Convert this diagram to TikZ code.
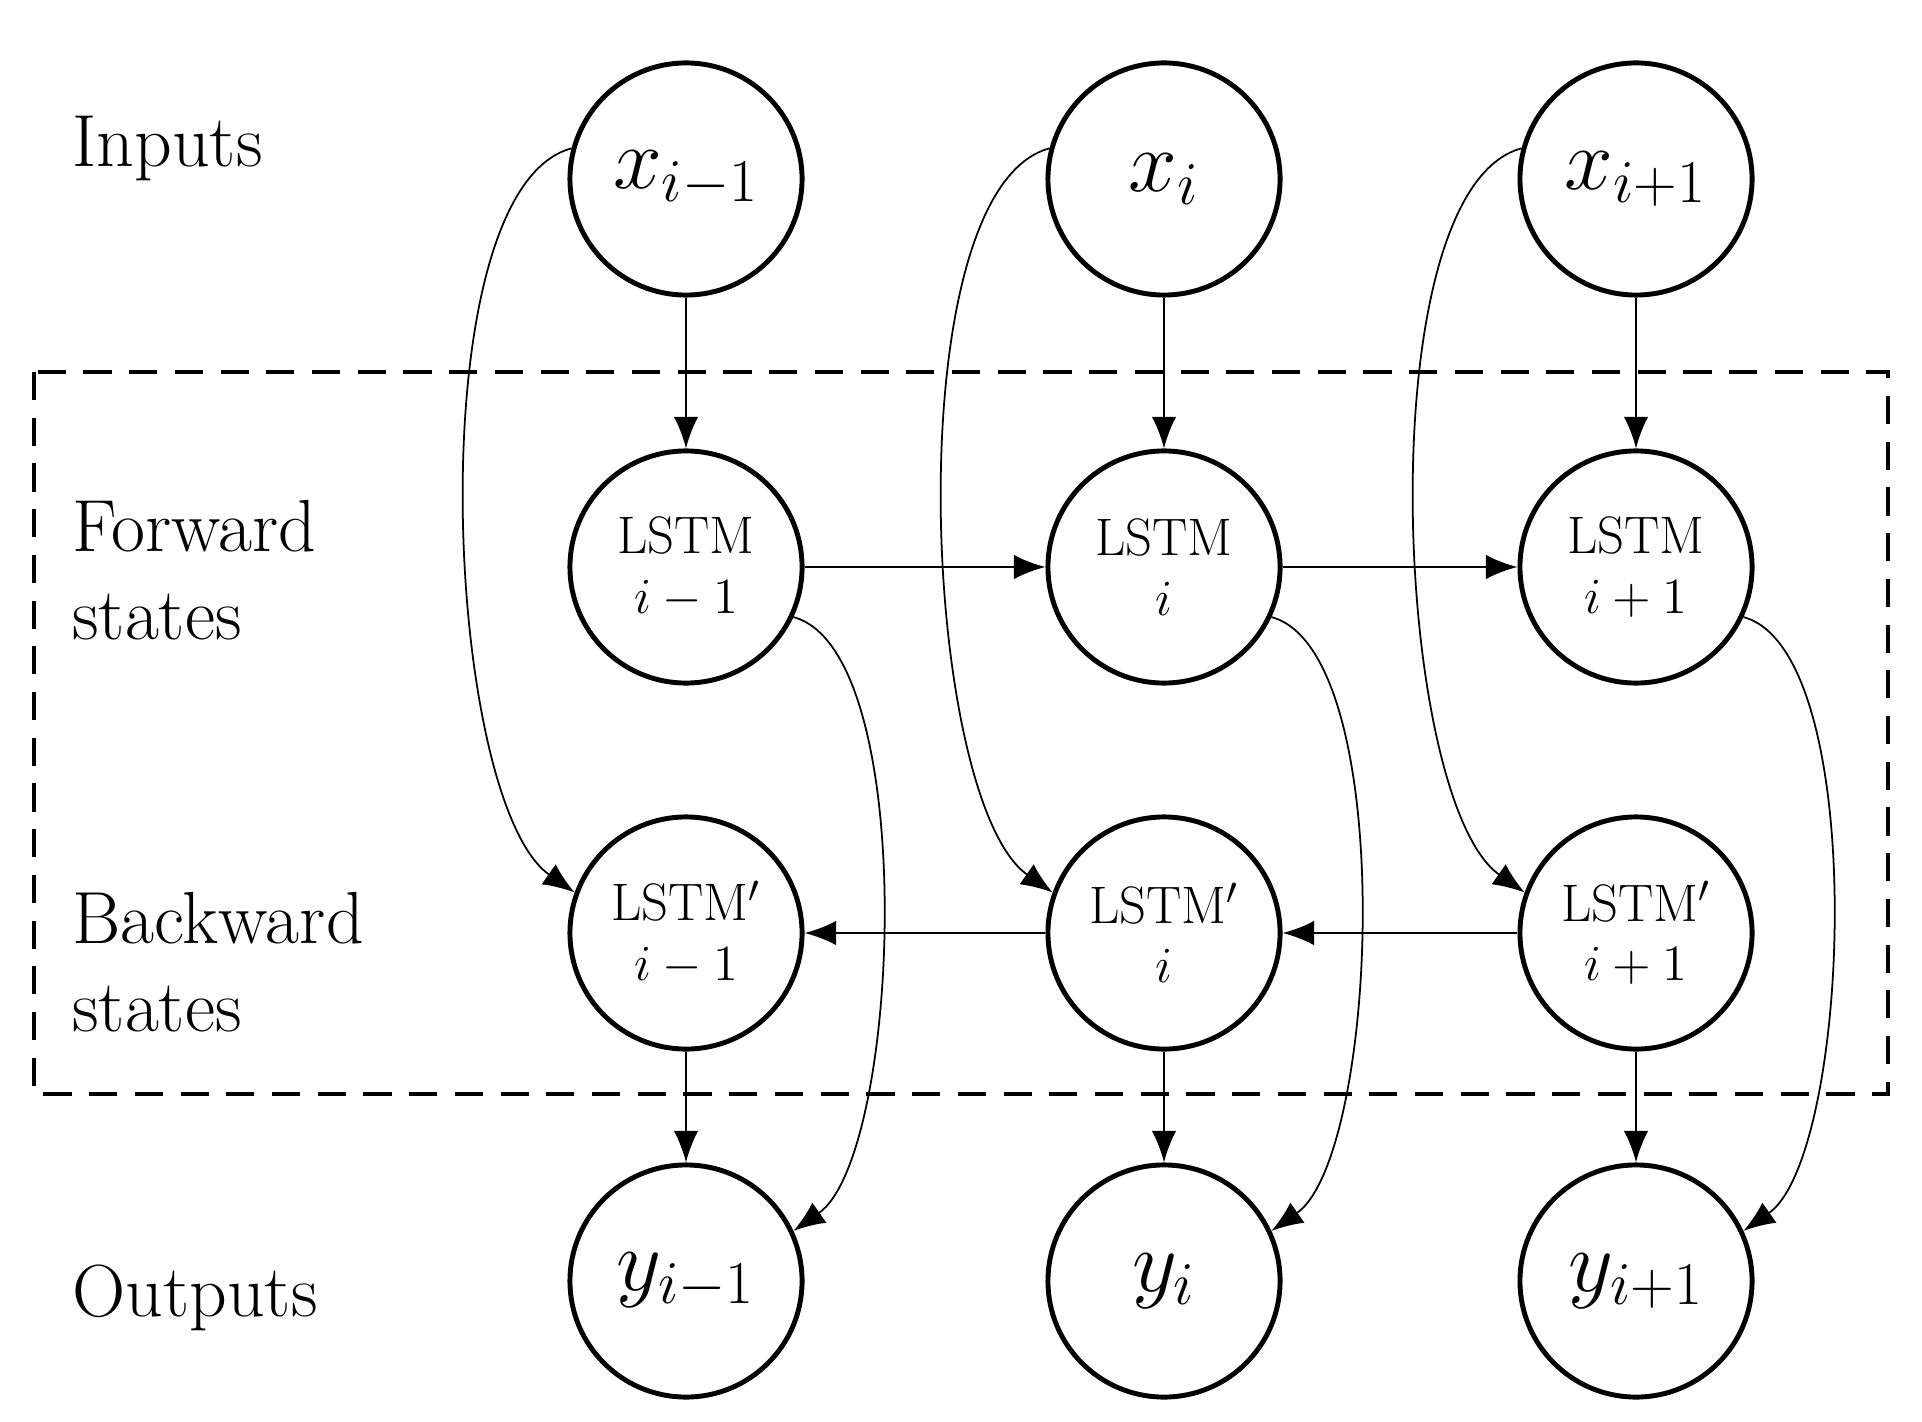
\documentclass[tikz,border=0pt]{standalone}
\usetikzlibrary{arrows.meta}
\begin{document}
\begin{tikzpicture}[x=0.01cm,y=0.01cm,
  st/.style={circle,draw,line width=1.4pt,minimum size=2.32cm,inner sep=0pt,font=\fontsize{15}{17}\selectfont,align=center},
  io/.style={st,font=\fontsize{24}{28}\selectfont},
  lab/.style={anchor=west,font=\fontsize{21}{25}\selectfont,align=left},
  ar/.style={-{Latex[length=9pt,width=7pt]},line width=0.7pt},
  cr/.style={-{Latex[length=9pt,width=7pt]},line width=0.5pt}]
\useasboundingbox (0,0) rectangle (1922,-1422);
\draw[dashed,line width=1.2pt,dash pattern=on 8pt off 5pt] (34,-372) rectangle (1888,-1094);
\node[lab] (li) at (60,-148) {Inputs};
\node[lab] (lf) at (60,-570) {Forward\\states};
\node[lab] (lb) at (60,-962) {Backward\\states};
\node[lab] (lo) at (60,-1298) {Outputs};
\foreach \n/\x/\s/\t in {a/686/{i-1}/{i-1},b/1164/{i}/{i},c/1636/{i+1}/{i+1}}{
  \node[io] (x\n) at (\x,-179) {$x_{\s}$};
  \node[st] (f\n) at (\x,-567) {LSTM\\$\t$};
  \node[st] (b\n) at (\x,-933) {LSTM$'$\\$\t$};
  \node[io] (y\n) at (\x,-1281) {$y_{\s}$};
  \draw[ar] (x\n) -- (f\n);
  \draw[ar] (b\n) -- (y\n);
  \draw[cr] (x\n.165) to[out=195,in=145,looseness=0.55] (b\n.160);
  \draw[cr] (f\n.-25) to[out=-15,in=35,looseness=0.55] (y\n.25);
}
\draw[ar] (fa) -- (fb);
\draw[ar] (fb) -- (fc);
\draw[ar] (bc) -- (bb);
\draw[ar] (bb) -- (ba);
\end{tikzpicture}
\end{document}
